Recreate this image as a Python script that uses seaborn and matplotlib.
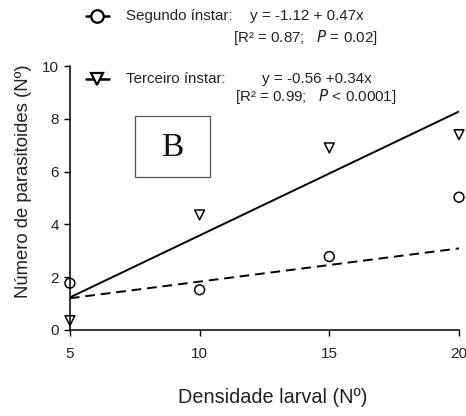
import numpy as np
import pandas as pd
import matplotlib
matplotlib.use("Agg")
import matplotlib.pyplot as plt
import seaborn as sns
from matplotlib.lines import Line2D
from matplotlib.patches import Rectangle

# Observed counts per larval density
densidade = [5, 10, 15, 20]
segundo = [1.77, 1.52, 2.78, 5.03]
terceiro = [0.35, 4.36, 6.9, 7.4]

# Fitted regression lines (intercept, slope)
fit_solid = (-1.12, 0.47)
fit_dashed = (0.57, 0.126)

sns.set_theme(style="ticks")
plt.rcParams["font.family"] = ["Liberation Sans", "DejaVu Sans"]

TXT = "#222222"
fig = plt.figure(figsize=(4.66, 4.16), dpi=100)
ax = fig.add_axes([0.150, 0.207, 0.835, 0.634])

pts = pd.DataFrame({
    "x": densidade * 2,
    "y": segundo + terceiro,
    "grupo": ["Segundo"] * 4 + ["Terceiro"] * 4,
})
sns.scatterplot(data=pts, x="x", y="y", style="grupo",
                markers={"Segundo": "o", "Terceiro": "v"},
                s=50, facecolor="none", edgecolor="black", linewidth=1.1,
                color="black", legend=False, ax=ax, clip_on=False, zorder=3)

xl = np.array([5, 20])
lines = pd.DataFrame({
    "x": np.concatenate([xl, xl]),
    "y": np.concatenate([fit_solid[0] + fit_solid[1] * xl,
                         fit_dashed[0] + fit_dashed[1] * xl]),
    "tipo": ["solid"] * 2 + ["dashed"] * 2,
})
sns.lineplot(data=lines[lines.tipo == "solid"], x="x", y="y", color="black",
             linewidth=1.4, ax=ax, legend=False)
sns.lineplot(data=lines[lines.tipo == "dashed"], x="x", y="y", color="black",
             linewidth=1.4, linestyle=(0, (5, 3)), ax=ax, legend=False)

ax.set_xlim(5, 20)
ax.set_ylim(0, 10)
ax.set_xticks([5, 10, 15, 20])
ax.set_yticks([0, 2, 4, 6, 8, 10])
ax.tick_params(labelsize=11, length=4, width=1, color="black", labelcolor=TXT)
ax.tick_params(axis="x", pad=8)
ax.tick_params(axis="y", pad=4)
for s in ["top", "right"]:
    ax.spines[s].set_visible(False)
for s in ["left", "bottom"]:
    ax.spines[s].set_linewidth(1.1)
    ax.spines[s].set_color("black")
ax.set_xlabel("Densidade larval (Nº)", fontsize=14.3, color=TXT)
ax.set_ylabel("Número de parasitoides (Nº)", fontsize=13.3, color=TXT)
ax.xaxis.set_label_coords(0.522, -0.222)
ax.yaxis.set_label_coords(-0.097, 0.564)

# Panel letter in a framed box
fig.add_artist(Rectangle((0.290, 0.575), 0.161, 0.147, transform=fig.transFigure,
                         facecolor="white", edgecolor="#555555", linewidth=0.9))
fig.text(0.369, 0.645, "B", fontsize=24, family="Liberation Serif",
         ha="center", va="center", color="#111111")

# Legend entries with equations
def handle(y, marker):
    fig.add_artist(Line2D([0.184, 0.233], [y, y], color="black", lw=1.8,
                          transform=fig.transFigure))
    fig.add_artist(Line2D([0.2085], [y], marker=marker, markersize=9,
                          markerfacecolor="white", markeredgecolor="black",
                          markeredgewidth=1.6, transform=fig.transFigure))

fs = 10.9
handle(0.962, "o")
fig.text(0.270, 0.962, "Segundo ínstar:", fontsize=fs, va="center", color=TXT)
fig.text(0.536, 0.962, "y = -1.12 + 0.47x", fontsize=fs, va="center", color=TXT)
fig.text(0.500, 0.910, "[R² = 0.87;   $\\it{P}$ = 0.02]", fontsize=fs, va="center", color=TXT)

handle(0.810, "v")
fig.text(0.270, 0.810, "Terceiro ínstar:", fontsize=fs, va="center", color=TXT)
fig.text(0.562, 0.810, "y = -0.56 +0.34x", fontsize=fs, va="center", color=TXT)
fig.text(0.504, 0.767, "[R² = 0.99;   $\\it{P}$ < 0.0001]", fontsize=fs, va="center", color=TXT)

fig.savefig("out.png", dpi=100)
